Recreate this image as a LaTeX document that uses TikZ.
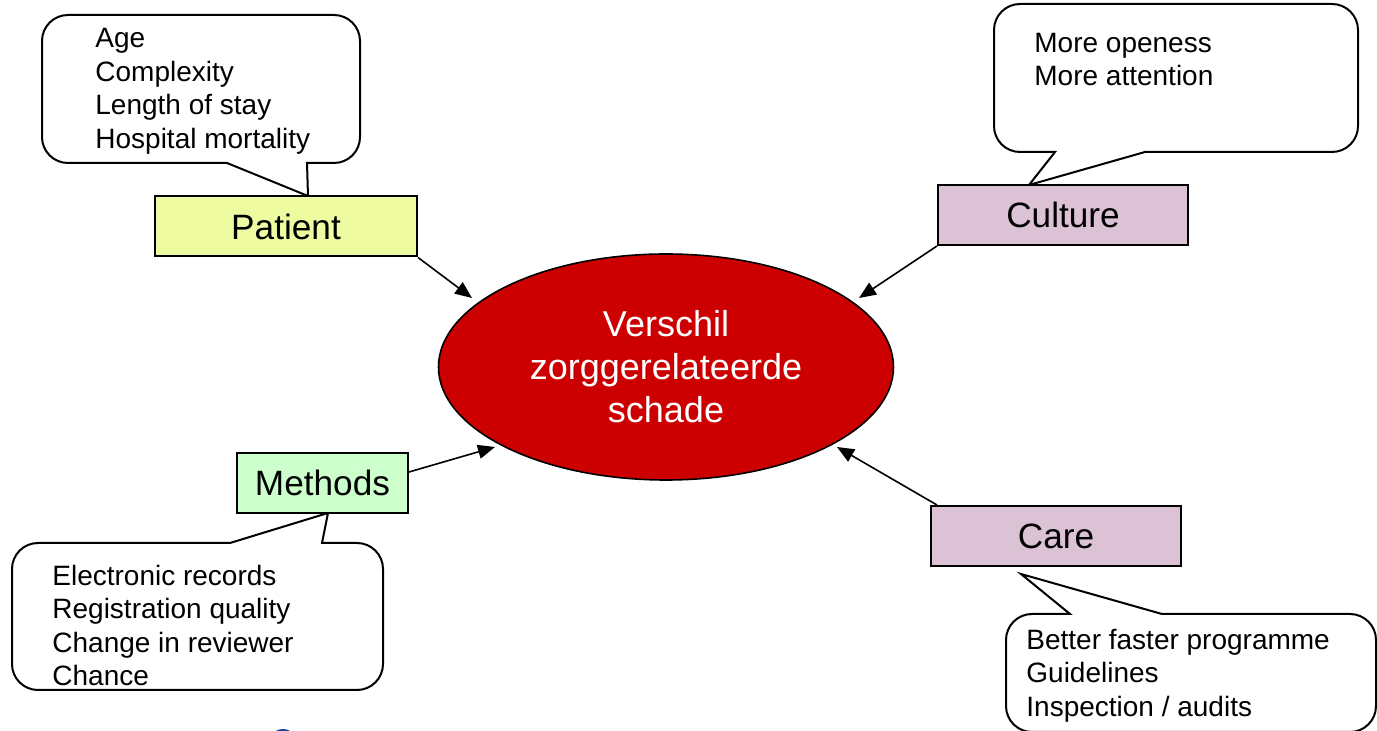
\documentclass[tikz,border=0pt]{standalone}
\usepackage{fontspec}
\setmainfont{Liberation Sans}
\usetikzlibrary{shapes.geometric,arrows.meta}

\definecolor{harmred}{RGB}{204,0,0}
\definecolor{patientfill}{RGB}{238,251,160}
\definecolor{methodfill}{RGB}{204,255,204}
\definecolor{lilacfill}{RGB}{219,194,213}
\definecolor{logoblue}{RGB}{30,70,150}

\begin{document}
\begin{tikzpicture}[x=0.5pt,y=-0.5pt,
  factor/.style={draw=black, line width=1pt, rectangle, minimum height=30pt,
                 inner sep=0pt, font=\fontsize{17.6}{21}\selectfont},
  bubble/.style={draw=black, line width=1pt, fill=white},
  bubbletext/.style={anchor=north west, inner sep=0pt, align=left,
                     font=\fontsize{14}{16.75}\selectfont},
  link/.style={line width=0.8pt, -{Triangle[length=8.5pt,width=7pt]}}]

\useasboundingbox (0,0) rectangle (1377,731);

% partial logo mark at the lower edge
\begin{scope}
  \clip (0,0) rectangle (1377,731);
  \fill[logoblue] (283,743) circle[radius=7pt];
\end{scope}

% speech bubbles: rounded body, sharp pointer
\draw[bubble] (307,163) [rounded corners=13pt] -- (360,163) -- (360,15) -- (42,15)
  -- (42,163) [sharp corners] -- (227,163) -- (308,196) -- cycle;
\draw[bubble] (1145,152) [rounded corners=13pt] -- (1358,152) -- (1358,4) -- (994,4)
  -- (994,152) [sharp corners] -- (1055,152) -- (1029,185) -- cycle;
\draw[bubble] (230,543) [rounded corners=13pt] -- (12,543) -- (12,690) -- (383,690)
  -- (383,543) [sharp corners] -- (322,543) -- (328,513) -- cycle;
\draw[bubble] (1162,614) [rounded corners=13pt] -- (1376,614) -- (1376,732) -- (1006,732)
  -- (1006,614) [sharp corners] -- (1070,614) -- (1021,574) -- cycle;

\node[bubbletext] (patientlist) at (95,28) {Age\\Complexity\\Length of stay\\Hospital mortality};
\node[bubbletext] (culturelist) at (1034,32.5) {More openess\\More attention};
\node[bubbletext] (methodlist) at (52,564.5) {Electronic records\\Registration quality\\Change in reviewer\\Chance};
\node[bubbletext] (carelist) at (1026,628.5) {Better faster programme\\Guidelines\\Inspection / audits};

% central outcome
\node[ellipse, draw=black, line width=0.8pt, fill=harmred, minimum width=227.5pt,
      minimum height=113pt, inner sep=0pt, text=white, align=center,
      font=\fontsize{18}{21.5}\selectfont] (harm) at (666,367)
      {Verschil\\zorggerelateerde\\schade};

% contributing factors
\node[factor, fill=patientfill, minimum width=131pt] (patient) at (286,226.5) {Patient};
\node[factor, fill=lilacfill, minimum width=125pt] (culture) at (1063,215) {Culture};
\node[factor, fill=methodfill, minimum width=85.5pt] (methods) at (322.5,483) {Methods};
\node[factor, fill=lilacfill, minimum width=125pt] (care) at (1056,536) {Care};

% arrow tips on the ellipse
\coordinate (tipP) at (472,298);
\coordinate (tipC) at (859,298);
\coordinate (tipM) at (495,447);
\coordinate (tipK) at (837,447);

\draw[link] (patient.south east) -- (tipP);
\draw[link] (culture.south west) -- (tipC);
\draw[link] ([yshift=5.5pt]methods.east) -- (tipM);
\draw[link] ([xshift=3.5pt]care.north west) -- (tipK);

\end{tikzpicture}
\end{document}
